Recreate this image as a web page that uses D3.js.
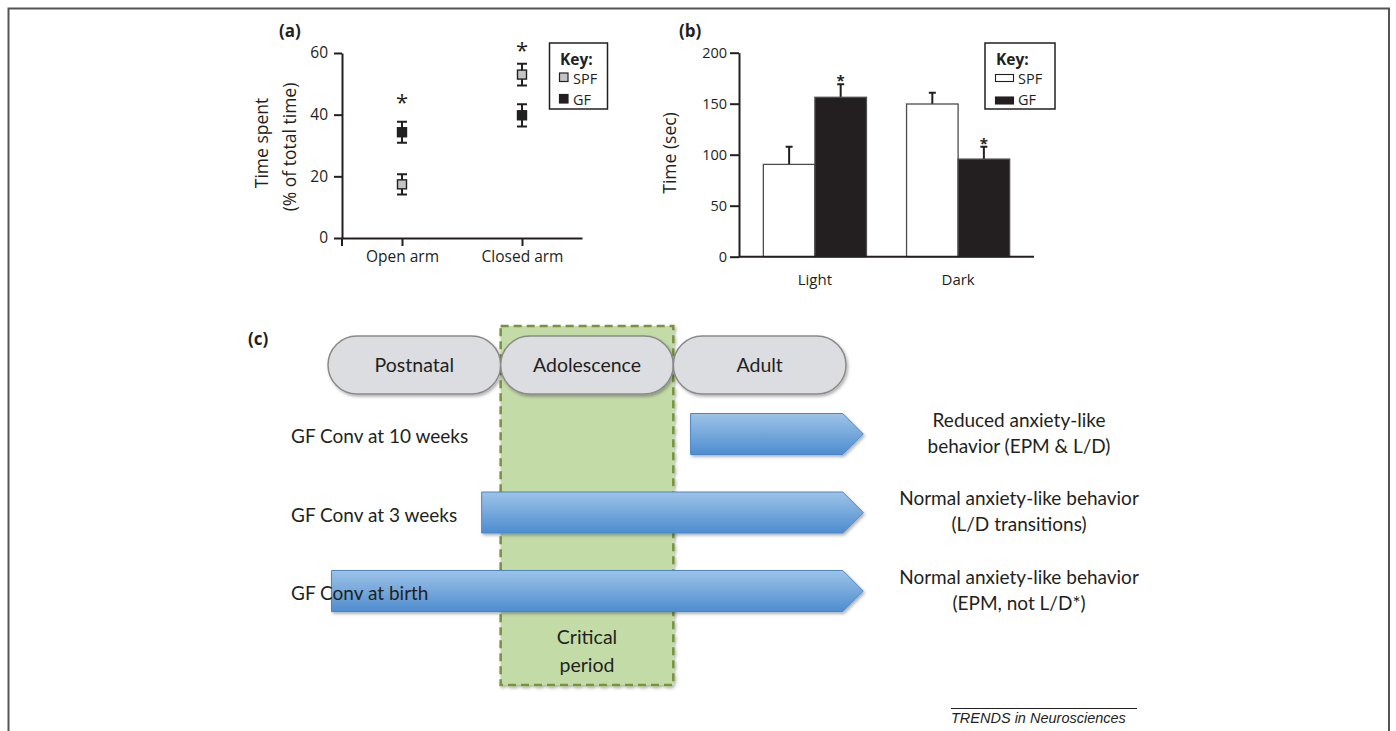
<!DOCTYPE html>
<html>
<head>
<meta charset="utf-8">
<script src="https://cdn.jsdelivr.net/npm/d3@7"></script>
<style>
	body { margin: 0; background: #fff; }
	svg text { fill: #231f20; }
</style>
</head>
<body>
<div id="chart"></div>
<script>
'use strict';

// ---------- panel (a): time spent in the arms ---------- //
const armCategories = ["Open arm", "Closed arm"];
const armSPF        = [17.4, 53];
const armSPFErr     = [3.3, 3.5];
const armGF         = [34.3, 39.8];
const armGFErr      = [3.4, 3.6];
const armStarAt     = [45.5, 62.3];   // value level of the asterisk
const armTicks      = [0, 20, 40, 60];

// ---------- panel (b): light / dark box ---------- //
const boxCategories = ["Light", "Dark"];
const boxGroups     = ["SPF", "GF"];
const boxSPF        = [90.5, 149.7];
const boxSPFErr     = [17.3, 11];
const boxGF         = [156.3, 95.7];
const boxGFErr      = [12.7, 12];
const boxStarOn     = ["GF", "GF"];
const boxTicks      = [0, 50, 100, 150, 200];

// ---------- panel (c): timeline ---------- //
const stages         = ["Postnatal", "Adolescence", "Adult"];
const criticalPeriod = [1, 2];          // in stage units
const convLabels     = ["GF Conv at 10 weeks", "GF Conv at 3 weeks", "GF Conv at birth"];
const convStart      = [2.1, 0.89, 0.02];
const convEnd        = 3.1;
const outcomes       = [
	["Reduced anxiety-like", "behavior (EPM & L/D)"],
	["Normal anxiety-like behavior", "(L/D transitions)"],
	["Normal anxiety-like behavior", "(EPM, not L/D*)"]
];

const INK    = "#231f20";
const FONT_A = "'Open Sans', sans-serif";
const FONT_C = "Lato, sans-serif";

const svg = d3.select("#chart")
	.append("svg")
	.attr("width", 1396)
	.attr("height", 731);

const defs = svg.append("defs");

defs.append("filter")
	.attr("id", "shadow")
	.attr("x", "-10%").attr("y", "-20%")
	.attr("width", "130%").attr("height", "150%")
	.append("feDropShadow")
	.attr("dx", 1.5).attr("dy", 2)
	.attr("stdDeviation", 1.5)
	.attr("flood-opacity", 0.3);

const grad = defs.append("linearGradient")
	.attr("id", "blue")
	.attr("x1", 0).attr("y1", 0)
	.attr("x2", 0).attr("y2", 1);
grad.append("stop").attr("offset", "0%").attr("stop-color", "#9dc3e8");
grad.append("stop").attr("offset", "100%").attr("stop-color", "#4e8dcf");

// frame round the figure
svg.append("path")
	.attr("d", "M8.5,731V8.5H1389V731")
	.attr("fill", "none")
	.attr("stroke", "#555")
	.attr("stroke-width", 2);


const styleAxis = (g, size) =>
{
	g.select(".domain").attr("stroke", INK).attr("stroke-width", 2);
	g.selectAll(".tick line").attr("stroke", INK).attr("stroke-width", 2);
	g.selectAll(".tick text")
		.attr("fill", INK)
		.style("font-family", FONT_A)
		.style("font-size", size + "px");
};

const panelLabel = (text, x, y) =>
	svg.append("text")
		.attr("x", x).attr("y", y)
		.style("font-family", FONT_A)
		.style("font-weight", "bold")
		.style("font-size", "17px")
		.text(text);

const rotatedLabel = (text, x, y, size) =>
	svg.append("text")
		.attr("transform", "translate(" + x + "," + y + ") rotate(-90)")
		.attr("text-anchor", "middle")
		.attr("dy", "0.35em")
		.style("font-family", FONT_A)
		.style("font-size", size + "px")
		.text(text);


// -------------   Panel (a)   -------------- //

const drawPanelA = () =>
{
	const x = d3.scalePoint().domain(armCategories).range([342, 582]).padding(0.5);
	const y = d3.scaleLinear().domain([0, 60]).range([238, 53]);

	panelLabel("(a)", 279, 37);

	svg.append("g")
		.attr("transform", "translate(" + x.range()[0] + ",0)")
		.call(d3.axisLeft(y).tickValues(armTicks).tickSize(8).tickSizeOuter(0).tickPadding(6))
		.call(g => styleAxis(g, 15.5));

	svg.append("g")
		.attr("transform", "translate(0," + y(0) + ")")
		.call(d3.axisBottom(x).tickSize(8).tickSizeOuter(0).tickPadding(5))
		.call(g => styleAxis(g, 15.5));

	// left end tick of the x axis
	svg.append("line")
		.attr("x1", x.range()[0]).attr("x2", x.range()[0])
		.attr("y1", y(0)).attr("y2", y(0) + 8)
		.attr("stroke", INK).attr("stroke-width", 2);

	rotatedLabel("Time spent", 261.5, 143, 17.5);
	rotatedLabel("(% of total time)", 290, 147, 17.5);

	const series = [
		{ name: "SPF", values: armSPF, errs: armSPFErr, fill: "#c4c4c4" },
		{ name: "GF",  values: armGF,  errs: armGFErr,  fill: INK }
	];

	series.forEach(s =>
	{
		const g = svg.append("g").attr("class", "series-" + s.name);
		const pts = armCategories.map((c, i) => ({ c, v: s.values[i], e: s.errs[i] }));

		g.selectAll(".err")
			.data(pts)
			.enter()
				.append("path")
				.attr("class", "err")
				.attr("d", d =>
				{
					const cx = x(d.c), lo = y(d.v - d.e), hi = y(d.v + d.e);
					return "M" + (cx - 5) + "," + hi + "H" + (cx + 5)
						+ "M" + cx + "," + hi + "V" + lo
						+ "M" + (cx - 5) + "," + lo + "H" + (cx + 5);
				})
				.attr("fill", "none")
				.attr("stroke", INK)
				.attr("stroke-width", 2);

		g.selectAll(".pt")
			.data(pts)
			.enter()
				.append("rect")
				.attr("class", "pt")
				.attr("x", d => x(d.c) - 4.5)
				.attr("y", d => y(d.v) - 4.5)
				.attr("width", 9)
				.attr("height", 9)
				.attr("fill", s.fill)
				.attr("stroke", INK)
				.attr("stroke-width", 1.4);
	});

	svg.selectAll(".starA")
		.data(armCategories)
		.enter()
			.append("text")
			.attr("class", "starA")
			.attr("x", d => x(d))
			.attr("y", (d, i) => y(armStarAt[i]) + 12)
			.attr("text-anchor", "middle")
			.style("font-family", FONT_A)
			.style("font-size", "22px")
			.text("*");

	// key
	const key = svg.append("g");
	key.append("rect")
		.attr("x", 549.5).attr("y", 43)
		.attr("width", 58).attr("height", 66)
		.attr("fill", "#fff")
		.attr("stroke", INK).attr("stroke-width", 1.5);
	key.append("text")
		.attr("x", 560).attr("y", 64.5)
		.style("font-family", FONT_A)
		.style("font-weight", "bold")
		.style("font-size", "15.5px")
		.text("Key:");
	series.forEach((s, i) =>
	{
		key.append("rect")
			.attr("x", 559.5).attr("y", 73 + i * 21.5)
			.attr("width", 8.5).attr("height", 8.5)
			.attr("fill", s.fill)
			.attr("stroke", INK).attr("stroke-width", 1.2);
		key.append("text")
			.attr("x", 573).attr("y", 83.5 + i * 21.5)
			.style("font-family", FONT_A)
			.style("font-size", "14.5px")
			.text(s.name);
	});
};


// -------------   Panel (b)   -------------- //

const drawPanelB = () =>
{
	const x    = d3.scaleBand().domain(boxCategories).range([739, 1034]).paddingInner(0.28).paddingOuter(0.17);
	const xSub = d3.scaleBand().domain(boxGroups).range([0, x.bandwidth()]);
	const y    = d3.scaleLinear().domain([0, 200]).range([256.7, 52.7]);

	panelLabel("(b)", 679, 37);

	svg.append("g")
		.attr("transform", "translate(" + x.range()[0] + ",0)")
		.call(d3.axisLeft(y).tickValues(boxTicks).tickSize(9).tickSizeOuter(0).tickPadding(3))
		.call(g => styleAxis(g, 14.5));

	const values = { SPF: boxSPF, GF: boxGF };
	const errs   = { SPF: boxSPFErr, GF: boxGFErr };
	const fills  = { SPF: "#fff", GF: INK };

	const bars = boxCategories.flatMap((c, i) =>
		boxGroups.map(gName => ({ c, g: gName, v: values[gName][i], e: errs[gName][i], star: boxStarOn[i] === gName })));

	svg.selectAll(".errB")
		.data(bars)
		.enter()
			.append("path")
			.attr("class", "errB")
			.attr("d", d =>
			{
				const cx = x(d.c) + xSub(d.g) + xSub.bandwidth() / 2;
				return "M" + cx + "," + y(d.v) + "V" + y(d.v + d.e)
					+ "M" + (cx - 3.5) + "," + y(d.v + d.e) + "H" + (cx + 3.5);
			})
			.attr("fill", "none")
			.attr("stroke", INK)
			.attr("stroke-width", 2);

	svg.selectAll(".bar")
		.data(bars)
		.enter()
			.append("rect")
			.attr("class", "bar")
			.attr("x", d => x(d.c) + xSub(d.g))
			.attr("y", d => y(d.v))
			.attr("width", xSub.bandwidth())
			.attr("height", d => y(0) - y(d.v))
			.attr("fill", d => fills[d.g])
			.attr("stroke", "#4d4d4d")
			.attr("stroke-width", 1.3);

	svg.selectAll(".starB")
		.data(bars.filter(d => d.star))
		.enter()
			.append("text")
			.attr("class", "starB")
			.attr("x", d => x(d.c) + xSub(d.g) + xSub.bandwidth() / 2)
			.attr("y", d => y(d.v + d.e) + 2)
			.attr("text-anchor", "middle")
			.style("font-family", FONT_A)
			.style("font-weight", "bold")
			.style("font-size", "15px")
			.text("*");

	svg.append("g")
		.attr("transform", "translate(0," + y(0) + ")")
		.call(d3.axisBottom(x).tickSize(0).tickSizeOuter(0).tickPadding(18))
		.call(g => styleAxis(g, 15))
		.call(g => g.select(".domain").attr("d", "M" + x.range()[0] + ",0H" + x.range()[1]));

	rotatedLabel("Time (sec)", 670, 153, 17.5);

	// key
	const key = svg.append("g");
	key.append("rect")
		.attr("x", 985).attr("y", 43)
		.attr("width", 70).attr("height", 66)
		.attr("fill", "#fff")
		.attr("stroke", INK).attr("stroke-width", 1.5);
	key.append("text")
		.attr("x", 996).attr("y", 64.5)
		.style("font-family", FONT_A)
		.style("font-weight", "bold")
		.style("font-size", "15.5px")
		.text("Key:");
	boxGroups.forEach((gName, i) =>
	{
		key.append("rect")
			.attr("x", 995.5).attr("y", 74.5 + i * 22.5)
			.attr("width", 18).attr("height", 7)
			.attr("fill", fills[gName])
			.attr("stroke", INK).attr("stroke-width", 1.1);
		key.append("text")
			.attr("x", 1018).attr("y", 83.5 + i * 21.5)
			.style("font-family", FONT_A)
			.style("font-size", "14.5px")
			.text(gName);
	});
};


// -------------   Panel (c)   -------------- //

const drawPanelC = () =>
{
	const x   = d3.scaleLinear().domain([0, stages.length]).range([328, 846]);
	const row = d3.scalePoint().domain(convLabels).range([434, 591]);
	const arrowH = 41;

	panelLabel("(c)", 248, 345);

	// critical period box
	svg.append("rect")
		.attr("x", x(criticalPeriod[0]))
		.attr("y", 326)
		.attr("width", x(criticalPeriod[1]) - x(criticalPeriod[0]))
		.attr("height", 359)
		.attr("fill", "#c3dba7")
		.attr("stroke", "#77933c")
		.attr("stroke-width", 2.5)
		.attr("stroke-dasharray", "8,5")
		.attr("filter", "url(#shadow)");

	svg.selectAll(".crit")
		.data(["Critical", "period"])
		.enter()
			.append("text")
			.attr("class", "crit")
			.attr("x", x(d3.mean(criticalPeriod)))
			.attr("y", (d, i) => 637 + i * 28.5)
			.attr("dy", "0.35em")
			.attr("text-anchor", "middle")
			.style("font-family", FONT_C)
			.style("font-size", "19.5px")
			.text(d => d);

	// stage pills
	const pill = svg.selectAll(".stage")
		.data(stages)
		.enter()
			.append("g")
			.attr("class", "stage");

	pill.append("rect")
		.attr("x", (d, i) => x(i))
		.attr("y", 336)
		.attr("width", (d, i) => x(i + 1) - x(i))
		.attr("height", 58)
		.attr("rx", 29)
		.attr("fill", "#dcdde0")
		.attr("stroke", "#8a8a8a")
		.attr("stroke-width", 1.5)
		.attr("filter", "url(#shadow)");

	pill.append("text")
		.attr("x", (d, i) => (x(i) + x(i + 1)) / 2)
		.attr("y", 365)
		.attr("dy", "0.35em")
		.attr("text-anchor", "middle")
		.style("font-family", FONT_C)
		.style("font-size", "19.5px")
		.text(d => d);

	// conventionalisation arrows
	svg.selectAll(".arrow")
		.data(convLabels)
		.enter()
			.append("path")
			.attr("class", "arrow")
			.attr("d", (d, i) =>
			{
				const x0 = x(convStart[i]);
				const tip = x(convEnd);
				const top = row(d) - arrowH / 2;
				const bot = row(d) + arrowH / 2;
				const neck = tip - arrowH / 2;
				return "M" + x0 + "," + top + "H" + neck + "L" + tip + "," + row(d)
					+ "L" + neck + "," + bot + "H" + x0 + "Z";
			})
			.attr("fill", "url(#blue)")
			.attr("stroke", "#4a86c8")
			.attr("stroke-width", 1)
			.attr("filter", "url(#shadow)");

	svg.selectAll(".convLabel")
		.data(convLabels)
		.enter()
			.append("text")
			.attr("class", "convLabel")
			.attr("x", 291)
			.attr("y", d => row(d) + 2.5)
			.attr("dy", "0.35em")
			.style("font-family", FONT_C)
			.style("font-size", "19px")
			.text(d => d);

	// outcomes
	const out = svg.selectAll(".outcome")
		.data(outcomes)
		.enter()
			.append("text")
			.attr("class", "outcome")
			.attr("text-anchor", "middle")
			.style("font-family", FONT_C)
			.style("font-size", "19px");

	out.selectAll("tspan")
		.data((d, i) => d.map((line, j) => ({ line, y: row(convLabels[i]) - 14 + j * 26 })))
		.enter()
			.append("tspan")
			.attr("x", 1019)
			.attr("y", d => d.y)
			.attr("dy", "0.35em")
			.text(d => d.line);

	// journal credit
	svg.append("line")
		.attr("x1", 951).attr("x2", 1137)
		.attr("y1", 708.5).attr("y2", 708.5)
		.attr("stroke", INK).attr("stroke-width", 1);
	svg.append("text")
		.attr("x", 951).attr("y", 723)
		.style("font-family", "'Liberation Sans', Arial, sans-serif")
		.style("font-style", "italic")
		.style("font-size", "14.5px")
		.text("TRENDS in Neurosciences");
};


// ----------   Main Program   ------------ //

drawPanelA();
drawPanelB();
drawPanelC();
</script>
</body>
</html>
